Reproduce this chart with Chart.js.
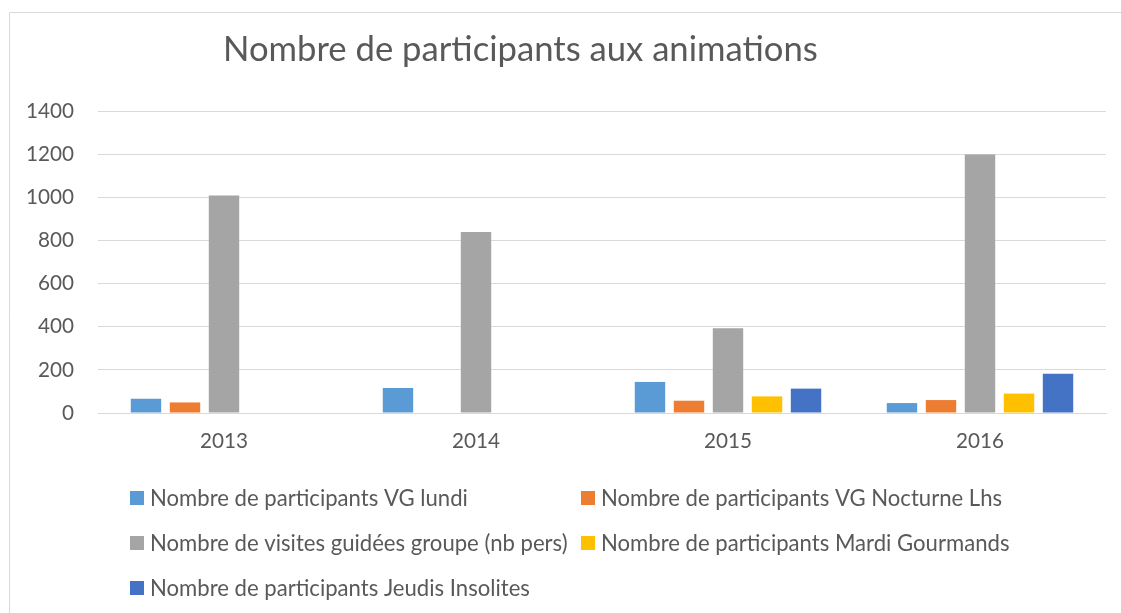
<!DOCTYPE html>
<html>
<head>
<meta charset="utf-8">
<script src="https://cdn.jsdelivr.net/npm/chart.js@4.4.1/dist/chart.umd.min.js"></script>
<style>
  body { margin: 0; background: #fff; }
  canvas { display: block; }
</style>
</head>
<body>
<canvas id="chart" width="1121" height="613"></canvas>
<script>
const years = ['2013', '2014', '2015', '2016'];
const vgLundi = [66, 116, 144, 46];
const vgNocturne = [49, null, 57, 60];
const visitesGroupe = [1008, 839, 393, 1198];
const mardiGourmands = [null, null, 77, 90];
const jeudisInsolites = [null, null, 113, 182];
const seriesNames = [
  'Nombre de participants VG lundi',
  'Nombre de participants VG Nocturne Lhs',
  'Nombre de visites guidées groupe (nb pers)',
  'Nombre de participants Mardi Gourmands',
  'Nombre de participants Jeudis Insolites',
];
const seriesColors = ['#5B9BD5', '#ED7D31', '#A5A5A5', '#FFC000', '#4472C4'];
const yMax = 1400;
const yStep = 200;
const chartTitle = 'Nombre de participants aux animations';

const FONT = 'Lato';
const textColor = '#595959';
const gridColor = '#D9D9D9';

// pick font size so the text spans roughly the same width as in the picture
function fitSize(text, target) {
  const c = document.createElement('canvas').getContext('2d');
  c.font = '100px ' + FONT;
  return (100 * target) / c.measureText(text).width;
}
const titleSize = fitSize(chartTitle, 595);
const legendSize = fitSize(seriesNames[0], 318);
const tickSize = fitSize('2013', 48);

const extras = {
  id: 'extras',
  beforeDraw(chart) {
    const ctx = chart.ctx;
    ctx.save();
    ctx.strokeStyle = gridColor;
    ctx.lineWidth = 1;
    ctx.beginPath();
    ctx.moveTo(9.5, 613);
    ctx.lineTo(9.5, 12.5);
    ctx.lineTo(1121, 12.5);
    ctx.stroke();
    ctx.restore();
  },
  afterDraw(chart) {
    const ctx = chart.ctx;
    ctx.save();
    ctx.fillStyle = textColor;
    ctx.textBaseline = 'alphabetic';
    ctx.textAlign = 'left';
    ctx.font = titleSize.toFixed(2) + 'px ' + FONT;
    ctx.fillText(chartTitle, 223, 61);

    // legend laid out in two columns like the original
    const cols = [130, 581];
    const rows = [498, 543, 588];
    ctx.font = legendSize.toFixed(2) + 'px ' + FONT;
    ctx.textBaseline = 'middle';
    chart.data.datasets.forEach((ds, i) => {
      const x = cols[i % 2];
      const y = rows[Math.floor(i / 2)];
      ctx.fillStyle = ds.backgroundColor;
      ctx.fillRect(x, y - 7, 14, 14);
      ctx.fillStyle = textColor;
      ctx.fillText(ds.label, x + 20, y + 1);
    });
    ctx.restore();
  },
};

const series = [vgLundi, vgNocturne, visitesGroupe, mardiGourmands, jeudisInsolites];
const datasets = series.map((values, i) => ({
  label: seriesNames[i],
  data: values,
  backgroundColor: seriesColors[i],
  categoryPercentage: 0.774,
  barPercentage: 0.78,
}));

new Chart(document.getElementById('chart'), {
  type: 'bar',
  data: {
    labels: years,
    datasets: datasets,
  },
  options: {
    responsive: false,
    animation: false,
    devicePixelRatio: 1,
    layout: {
      padding: { top: 111, right: 15, left: 0, bottom: 0 },
    },
    plugins: {
      legend: { display: false },
      title: { display: false },
      tooltip: { enabled: false },
    },
    scales: {
      x: {
        grid: { display: false, drawTicks: false },
        border: { display: true, color: gridColor, width: 1 },
        ticks: {
          color: textColor,
          font: { family: FONT, size: tickSize },
          padding: 16,
        },
        afterFit(scale) {
          scale.height = 200;
        },
      },
      y: {
        min: 0,
        max: yMax,
        grid: { color: gridColor, drawTicks: false },
        border: { display: false },
        ticks: {
          stepSize: yStep,
          color: textColor,
          font: { family: FONT, size: tickSize },
          padding: 24,
          callback: (value) => String(value),
        },
        afterFit(scale) {
          scale.width = 98;
        },
      },
    },
  },
  plugins: [extras],
});
</script>
</body>
</html>
